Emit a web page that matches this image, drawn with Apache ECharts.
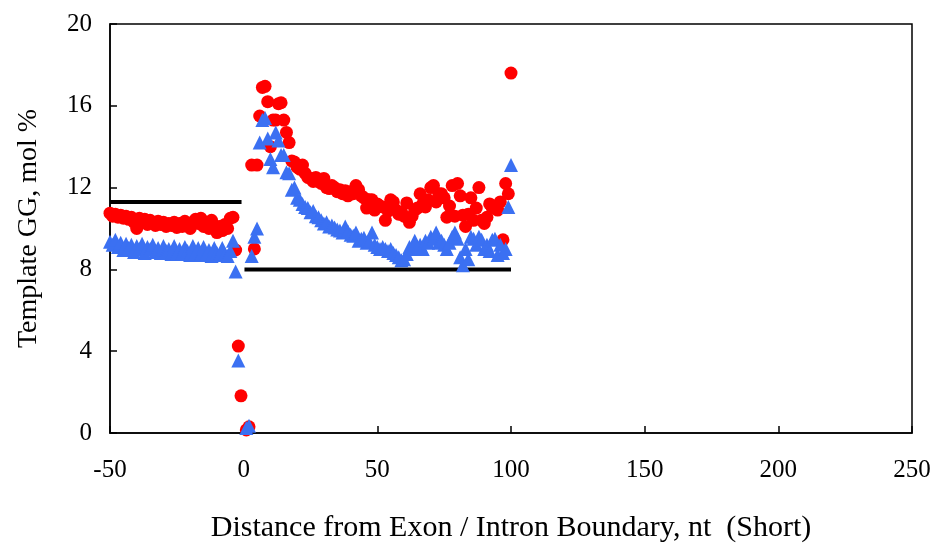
<!DOCTYPE html>
<html><head><meta charset="utf-8">
<script src="https://cdn.jsdelivr.net/npm/echarts@6/dist/echarts.min.js"></script>
<style>html,body{margin:0;padding:0;background:#fff}#c{width:944px;height:550px}</style>
</head><body><div id="c"></div>
<script>
// Exon side x = -50 .. -1
const exonX = [];
for (let i = -50; i <= -1; i++) exonX.push(i);
const redExon = [10.75,10.6,10.7,10.55,10.65,10.5,10.6,10.45,10.55,10.3,
  10.0,10.5,10.35,10.45,10.2,10.4,10.3,10.15,10.35,10.2,
  10.3,10.1,10.25,10.15,10.3,10.05,10.25,10.1,10.35,10.2,
  10.0,10.3,10.45,10.25,10.5,10.1,10.3,10.0,10.4,10.15,
  9.8,10.1,9.9,10.2,10.0,10.5,10.55,8.95,4.25,1.82];
const blueExon = [9.35,9.2,9.45,9.1,9.3,8.95,9.25,9.05,9.2,8.85,
  9.15,9.0,9.25,8.8,9.1,9.0,9.2,8.85,9.05,8.8,
  9.15,8.9,9.0,8.75,9.15,8.8,9.0,8.75,9.1,8.9,
  8.7,9.15,8.8,9.05,8.7,9.1,8.75,8.95,8.65,9.05,
  8.8,8.7,9.05,8.75,8.65,8.9,9.4,7.9,3.55,null];
// Intron side x = 1 .. 100
const intronX = [];
for (let i = 1; i <= 100; i++) intronX.push(i);
const redIntron = [0.15,0.3,13.1,9.0,13.1,15.5,16.9,16.95,16.2,14.0,
  15.3,15.3,16.1,16.15,15.3,14.7,14.2,13.3,13.25,13.0,
  12.9,13.1,12.7,12.5,12.45,12.3,12.5,12.3,12.2,12.45,
  12.0,11.95,12.1,12.0,11.8,11.9,11.7,11.85,11.6,11.8,
  11.7,12.1,11.9,11.6,11.5,11.0,11.4,11.4,10.9,11.2,
  11.1,11.05,10.4,10.85,11.4,11.3,10.9,10.7,10.8,10.6,
  11.25,10.3,10.6,10.9,11.0,11.7,11.2,11.05,11.4,12.0,
  12.1,11.3,11.7,11.7,11.5,10.55,11.1,12.1,10.6,12.2,
  11.6,10.65,10.1,10.7,11.5,10.4,11.0,12.0,10.4,10.25,
  10.55,11.2,11.0,11.1,10.9,11.3,9.45,12.2,11.7,17.6];
const blueIntron = [0.25,0.35,8.65,9.6,10.0,14.2,15.3,15.4,14.4,13.4,
  13.0,14.7,14.3,13.6,13.6,12.75,12.7,11.9,12.0,11.5,
  11.4,11.2,11.05,11.0,10.8,10.85,10.6,10.55,10.4,10.25,
  10.3,10.1,10.15,10.05,9.95,9.9,9.8,10.1,9.85,9.7,
  9.65,9.8,9.4,9.5,9.55,9.3,9.35,9.8,9.2,9.1,
  9.0,9.1,9.0,8.9,9.0,8.8,8.7,8.6,8.45,8.5,
  8.75,9.1,9.0,9.4,9.1,9.2,9.0,9.4,9.3,9.6,
  9.5,9.8,9.3,9.4,9.2,9.0,9.3,9.6,9.8,9.5,
  8.6,8.2,9.0,8.5,9.6,9.5,9.2,9.6,9.45,9.0,
  9.2,8.9,9.45,9.5,8.7,9.2,8.8,9.0,11.05,13.1];
// Reference levels
const exonLevelX = [-50, -0.8];
const exonLevel = 11.3;
const intronLevelX = [0.3, 100];
const intronLevel = 8.0;
const xTicks = [-50, 0, 50, 100, 150, 200, 250];
const yTicks = [0, 4, 8, 12, 16, 20];

function pairs(xs, ys) { const o = []; xs.forEach((x, i) => { if (ys[i] != null) o.push([x, ys[i]]); }); return o; }
const redData = pairs(exonX, redExon).concat(pairs(intronX, redIntron));
const blueData = pairs(exonX, blueExon).concat(pairs(intronX, blueIntron));

const font = 'Liberation Serif';
const chart = echarts.init(document.getElementById('c'));
chart.setOption({
  animation: false,
  grid: { left: 110, right: 32, top: 24, bottom: 117, show: true, borderColor: '#000', borderWidth: 1.5 },
  xAxis: {
    type: 'value', min: xTicks[0], max: xTicks[xTicks.length - 1], interval: 50,
    axisLine: { show: true, onZero: false, lineStyle: { color: '#000', width: 1.5 } },
    axisTick: { show: true, inside: true, length: 7, lineStyle: { color: '#000', width: 1.5 } },
    axisLabel: { color: '#000', fontFamily: font, fontSize: 25, margin: 25 },
    splitLine: { show: false },
    name: 'Distance from Exon / Intron Boundary, nt  (Short)', nameLocation: 'middle', nameGap: 80,
    nameTextStyle: { color: '#000', fontFamily: font, fontSize: 30 }
  },
  yAxis: {
    type: 'value', min: yTicks[0], max: yTicks[yTicks.length - 1], interval: 4,
    axisLine: { show: true, onZero: false, lineStyle: { color: '#000', width: 1.5 } },
    axisTick: { show: true, inside: true, length: 7, lineStyle: { color: '#000', width: 1.5 } },
    axisLabel: { color: '#000', fontFamily: font, fontSize: 25, margin: 18 },
    splitLine: { show: false },
    name: 'Template GG, mol %', nameLocation: 'middle', nameGap: 67,
    nameTextStyle: { color: '#000', fontFamily: font, fontSize: 28 }
  },
  series: [
    { type: 'line', data: exonLevelX.map(x => [x, exonLevel]), symbol: 'none', lineStyle: { color: '#000', width: 4 }, z: 1 },
    { type: 'line', data: intronLevelX.map(x => [x, intronLevel]), symbol: 'none', lineStyle: { color: '#000', width: 4 }, z: 1 },
    { type: 'scatter', data: redData, symbol: 'circle', symbolSize: 13, itemStyle: { color: '#ff0000', opacity: 1 }, z: 2 },
    { type: 'scatter', data: blueData, symbol: 'triangle', symbolSize: 14, itemStyle: { color: '#3b70f2', opacity: 1 }, z: 3 }
  ]
});
</script></body></html>
